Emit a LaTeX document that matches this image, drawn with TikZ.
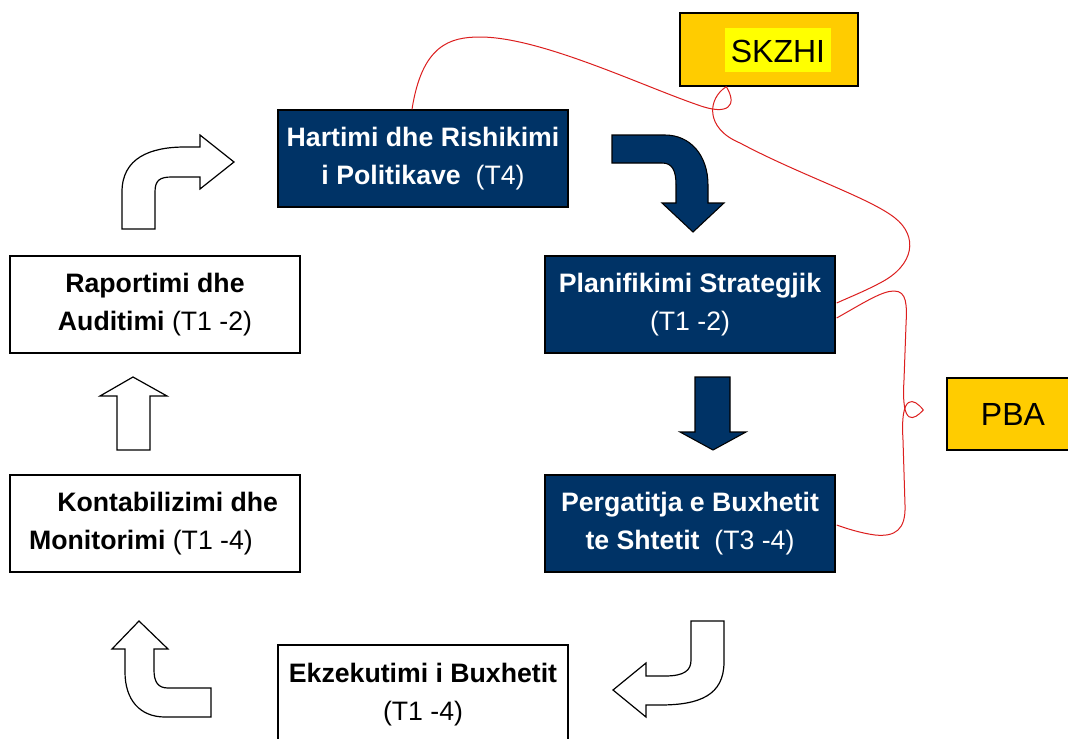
\documentclass[tikz,border=0pt]{standalone}
\usepackage{fontspec}
\setmainfont{Liberation Sans}
\usetikzlibrary{calc}
\definecolor{navy}{RGB}{0,51,102}
\definecolor{gold}{RGB}{255,204,0}
\definecolor{hilite}{RGB}{255,255,0}
\definecolor{linkred}{RGB}{220,30,30}

\begin{document}
\begin{tikzpicture}[x=0.75pt,y=-0.75pt,
  stage/.style={draw=black, line width=1pt, minimum width=217.5pt, minimum height=72.75pt,
    inner sep=2pt, align=center, font=\fontsize{20}{28.5}\selectfont},
  darkstage/.style={stage, fill=navy, text=white},
  lightstage/.style={stage, fill=white, text=black},
  tag/.style={draw=black, line width=1pt, fill=gold, inner sep=0pt,
    font=\fontsize{24}{28}\selectfont},
  hollowarrow/.style={draw=black, line width=0.9pt, fill=white, line join=miter},
  solidarrow/.style={draw=black, line width=0.8pt, fill=navy, line join=miter},
  link/.style={draw=linkred, line width=0.75pt}
]
\useasboundingbox (0,0) rectangle (1068,739);
\fill[white] (0,0) rectangle (1068,739);

% budget cycle stages
\node[darkstage] (hart) at (423,158.5)
  {\textbf{Hartimi dhe Rishikimi}\\\textbf{i Politikave}\ \ (T4)};
\node[darkstage] (plan) at (690,304.5)
  {\textbf{Planifikimi Strategjik}\\(T1 -2)};
\node[darkstage] (perg) at (690,523.5)
  {\textbf{Pergatitja e Buxhetit}\\\textbf{te Shtetit}\ \ (T3 -4)};
\node[lightstage, minimum height=75pt] (ekz) at (423,695)
  {\textbf{Ekzekutimi i Buxhetit}\\(T1 -4)};
\node[lightstage] (rap) at (155,304.5)
  {\textbf{Raportimi dhe}\\\textbf{Auditimi} (T1 -2)};
\node[lightstage] (kont) at (155,523.5)
  {\hspace*{19pt}\textbf{Kontabilizimi dhe}\\\textbf{Monitorimi} (T1 -4)\hspace*{21pt}};

% information systems
\setlength{\fboxsep}{0pt}
\node[tag, minimum width=133.5pt, minimum height=54.75pt] (skzhi) at (769,49.5)
  {\hspace*{13.5pt}\colorbox{hilite}{\hspace{4.5pt}\rule[-6.75pt]{0pt}{33pt}SKZHI\hspace{4.5pt}}};
\node[tag, minimum width=99pt, minimum height=54pt] (pba) at (1013,414) {PBA};

% flow arrows
\draw[hollowarrow] (122,229) -- (122,192) .. controls (122,158) and (150,147) .. (185,147)
  -- (200,147) -- (200,135) -- (234,162) -- (200,189) -- (200,177) -- (172,177)
  .. controls (160,177) and (155,180) .. (155,192) -- (155,229) -- cycle;
\draw[solidarrow] (612,135) -- (665,135) .. controls (690,135) and (708,155) .. (708,185)
  -- (708,203) -- (724,203) -- (693,232) -- (662,203) -- (676,203) -- (676,185)
  .. controls (676,170) and (672,163) .. (662,163) -- (612,163) -- cycle;
\draw[solidarrow] (695,377) -- (730,377) -- (730,432) -- (746,432) -- (713,450)
  -- (680,432) -- (695,432) -- cycle;
\draw[hollowarrow] (691,621) -- (724,621) -- (724,662) .. controls (724,695) and (700,705) .. (660,705)
  -- (646,705) -- (646,717) -- (613,690) -- (646,663) -- (646,676) -- (665,676)
  .. controls (685,676) and (691,670) .. (691,660) -- cycle;
\draw[hollowarrow] (211,717) -- (165,717) .. controls (140,717) and (125,700) .. (125,672)
  -- (125,649) -- (112,649) -- (139,621) -- (168,649) -- (154,649) -- (154,670)
  .. controls (154,682) and (158,688) .. (168,688) -- (211,688) -- cycle;
\draw[hollowarrow] (117,450) -- (117,396) -- (100,396) -- (133,377) -- (167,396)
  -- (150,396) -- (150,450) -- cycle;

% brace-like links to the systems
\coordinate (hartTop) at ($(hart.north)+(-11,0)$);
\coordinate (skzhiFoot) at ($(skzhi.south west)+(47,0)$);
\coordinate (planUp) at ($(plan.east)+(1,-1.5)$);
\coordinate (planDown) at ($(plan.east)+(1,13.5)$);
\coordinate (pergSide) at ($(perg.east)+(1,1.5)$);
\coordinate (pbaTip) at ($(pba.west)+(-23,-4)$);

\draw[link] (hartTop) .. controls (422,45) and (450,37) .. (480,37)
  .. controls (540,37) and (640,85) .. (698,105)
  .. controls (728,116) and (738,106) .. (skzhiFoot);
\draw[link] (skzhiFoot) .. controls (708,98) and (704,128) .. (740,143)
  .. controls (800,175) and (870,198) .. (895,218)
  .. controls (918,236) and (915,265) .. (880,283)
  .. controls (865,291) and (850,297) .. (planUp);
\draw[link] (planDown) .. controls (865,302) and (882,291) .. (894,291)
  .. controls (907,291) and (907,305) .. (906,325) -- (904,380)
  .. controls (901,428) and (914,420) .. (pbaTip);
\draw[link] (pbaTip) .. controls (914,398) and (900,392) .. (903,440) -- (905,505)
  .. controls (906,530) and (895,537) .. (875,535)
  .. controls (860,533) and (845,528) .. (pergSide);
\end{tikzpicture}
\end{document}
